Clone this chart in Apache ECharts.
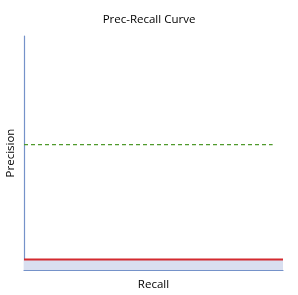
<!DOCTYPE html>
<html>
<head>
<meta charset="utf-8">
<script src="https://cdn.jsdelivr.net/npm/echarts@6/dist/echarts.min.js"></script>
<style>
html,body{margin:0;padding:0;background:#fff;}
#chart{width:298px;height:295px;}
</style>
</head>
<body>
<div id="chart"></div>
<script>
// PR curve (flat) and baseline
var curveRecall = [0, 1];
var curvePrec = [0.045, 0.045];
var baseRecall = [0, 0.96];
var basePrec = [0.536, 0.536];

function pairs(xs, ys){
	var out = [];
	for (var i = 0; i < xs.length; i++) out.push([xs[i], ys[i]]);
	return out;
}

function font(){
	return {fontFamily: 'Open Sans', fontSize: 11.5, fontWeight: 'normal', color: '#000'};
}

var myChart = echarts.init(document.getElementById('chart'));
var option = {
	animation: false,
	title: {
		text: 'Prec-Recall Curve',
		left: 'center',
		top: 9,
		textStyle: font()
	},
	grid: {left: 24, right: 15, top: 36, bottom: 25, outerBoundsMode: 'none', containLabel: false},
	xAxis: {
		type: 'value', min: 0, max: 1,
		name: 'Recall', nameLocation: 'middle', nameGap: 9,
		nameTextStyle: font(),
		axisLine: {lineStyle: {color: '#7592c9', width: 1.2}},
		axisTick: {show: false}, axisLabel: {show: false}, splitLine: {show: false}
	},
	yAxis: {
		type: 'value', min: 0, max: 1,
		name: 'Precision', nameLocation: 'middle', nameGap: 7,
		nameTextStyle: font(),
		axisLine: {show: true, lineStyle: {color: '#7592c9', width: 1.2}},
		axisTick: {show: false}, axisLabel: {show: false}, splitLine: {show: false}
	},
	series: [
		{
			type: 'line',
			data: pairs(curveRecall, curvePrec),
			symbol: 'none',
			itemStyle: {color: '#d42a2f'},
			lineStyle: {color: '#d42a2f', width: 2},
			areaStyle: {color: '#d9dff0', opacity: 1}
		},
		{
			type: 'line',
			data: pairs(baseRecall, basePrec),
			symbol: 'none',
			itemStyle: {color: '#4f9a2c'},
			lineStyle: {color: '#4f9a2c', width: 1.2, type: [4, 3]}
		}
	]
};
myChart.setOption(option);
</script>
</body>
</html>
